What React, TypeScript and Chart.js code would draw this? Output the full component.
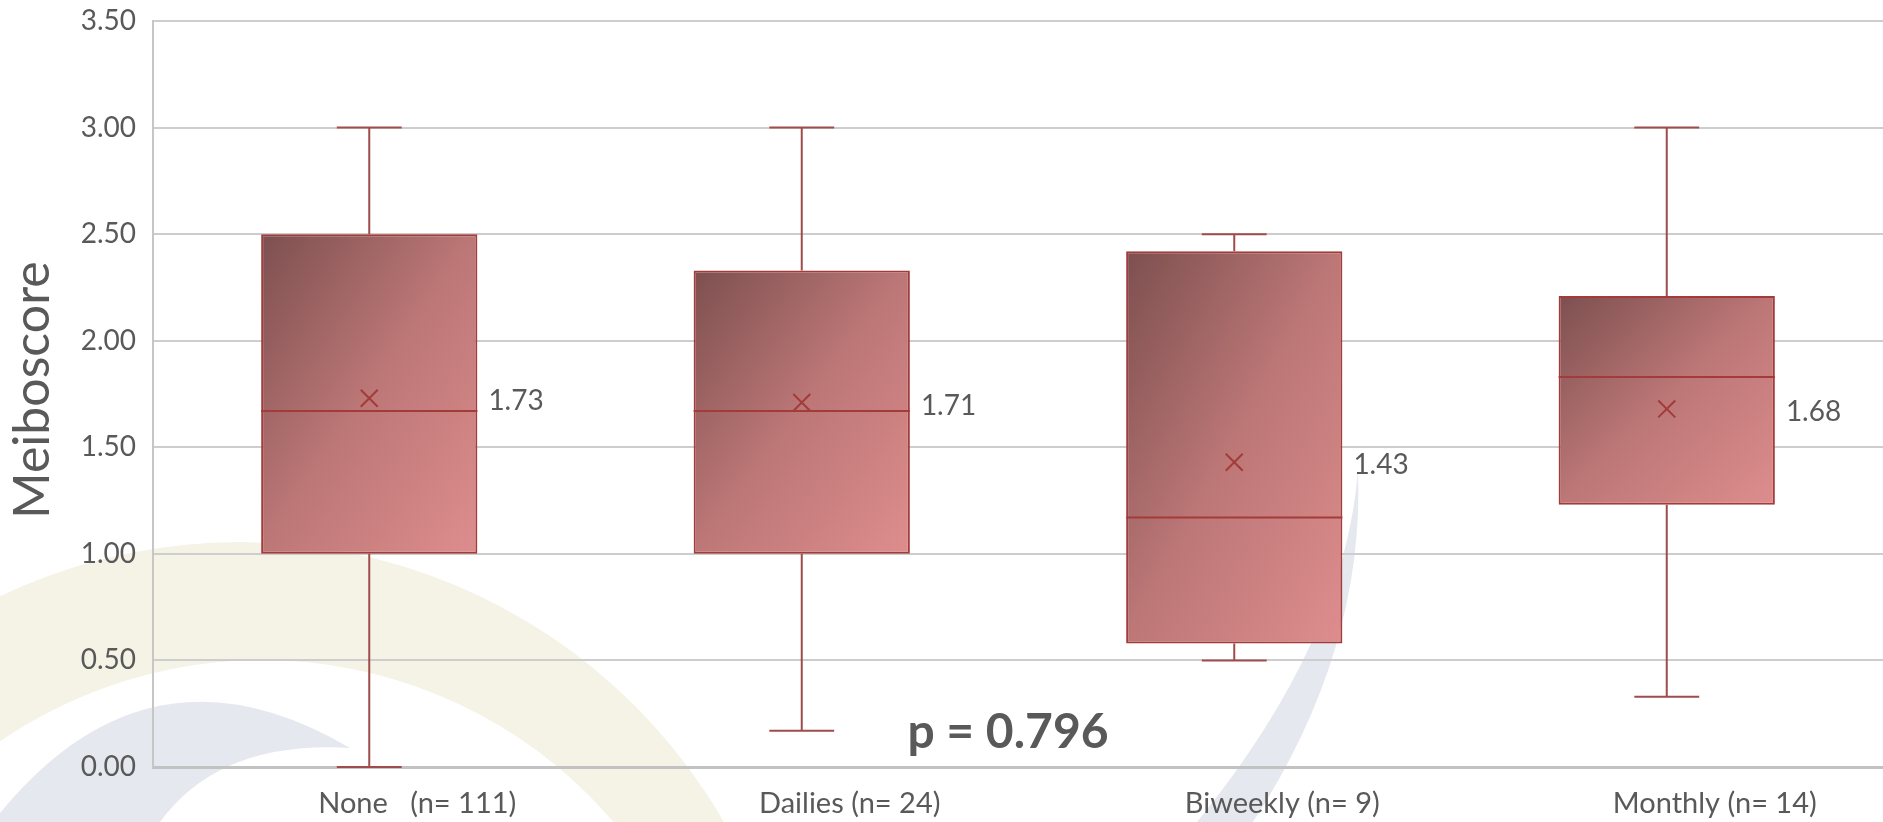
import React, { useEffect, useRef } from 'react';
import { Chart, registerables } from 'chart.js';

Chart.register(...registerables);

// ---- data ----
const categories = ['None   (n= 111)', 'Dailies (n= 24)', 'Biweekly (n= 9)', 'Monthly (n= 14)'];
const whiskerMin = [0.0, 0.17, 0.5, 0.33];
const q1 = [1.0, 1.0, 0.58, 1.23];
const median = [1.67, 1.67, 1.17, 1.83];
const q3 = [2.5, 2.33, 2.42, 2.21];
const whiskerMax = [3.0, 3.0, 2.5, 3.0];
const means = [1.73, 1.71, 1.43, 1.68];
const yMin = 0;
const yMax = 3.5;
const yStep = 0.5;
const yTitle = 'Meiboscore';
const pValueText = 'p = 0.796';
const pValueY = 0.16;

const FONT = 'Lato, "Open Sans", sans-serif';
const TEXT = '#595959';
const BOX_LINE = '#a33b3b';
const WHISKER = '#a04c4c';

const watermark = {
  id: 'watermark',
  beforeDraw(chart: any) {
    const ctx = chart.ctx;
    ctx.save();
    // beige ring
    ctx.beginPath();
    ctx.arc(240, 1100, 558, 0, Math.PI * 2);
    ctx.arc(262, 1122, 462, 0, Math.PI * 2, true);
    ctx.fillStyle = '#f5f2e6';
    ctx.fill('evenodd');
    // blue-grey crescent
    ctx.fillStyle = '#e5e8ee';
    ctx.beginPath();
    ctx.moveTo(0, 822);
    ctx.lineTo(0, 813);
    ctx.quadraticCurveTo(150, 630, 350, 748);
    ctx.quadraticCurveTo(220, 740, 160, 822);
    ctx.closePath();
    ctx.fill();
    // blue-grey stroke
    ctx.beginPath();
    ctx.moveTo(1358, 470);
    ctx.quadraticCurveTo(1365, 650, 1253, 822);
    ctx.lineTo(1197, 822);
    ctx.quadraticCurveTo(1345, 640, 1358, 470);
    ctx.closePath();
    ctx.fill();
    ctx.restore();
  },
};

const boxExtras = {
  id: 'boxExtras',
  afterDatasetsDraw(chart: any) {
    const ctx = chart.ctx;
    const xs = chart.scales.x;
    const ys = chart.scales.y;
    const meta = chart.getDatasetMeta(0);
    ctx.save();
    categories.forEach((_, i) => {
      const el = meta.data[i];
      const cx = xs.getPixelForValue(i);
      const w = el ? el.width : 200;
      const cap = w * 0.15;
      const yMaxP = ys.getPixelForValue(whiskerMax[i]);
      const yQ3 = ys.getPixelForValue(q3[i]);
      const yQ1 = ys.getPixelForValue(q1[i]);
      const yMinP = ys.getPixelForValue(whiskerMin[i]);
      ctx.strokeStyle = WHISKER;
      ctx.lineWidth = 2;
      ctx.beginPath();
      ctx.moveTo(cx, yQ3);
      ctx.lineTo(cx, yMaxP);
      ctx.moveTo(cx - cap, yMaxP);
      ctx.lineTo(cx + cap, yMaxP);
      ctx.moveTo(cx, yQ1);
      ctx.lineTo(cx, yMinP);
      ctx.moveTo(cx - cap, yMinP);
      ctx.lineTo(cx + cap, yMinP);
      ctx.stroke();
      // median
      const ym = ys.getPixelForValue(median[i]);
      ctx.strokeStyle = BOX_LINE;
      ctx.beginPath();
      ctx.moveTo(cx - w / 2, ym);
      ctx.lineTo(cx + w / 2, ym);
      ctx.stroke();
      // mean label
      ctx.fillStyle = TEXT;
      ctx.font = `28px ${FONT}`;
      ctx.textAlign = 'left';
      ctx.textBaseline = 'middle';
      ctx.fillText(means[i].toFixed(2), cx + w / 2 + 11, ys.getPixelForValue(means[i]) + 3);
    });
    // p-value
    const mid = (xs.getPixelForValue(1) + xs.getPixelForValue(2)) / 2 - 10;
    ctx.font = `bold 48px ${FONT}`;
    ctx.textAlign = 'center';
    ctx.textBaseline = 'middle';
    ctx.fillStyle = TEXT;
    ctx.fillText(pValueText, mid, ys.getPixelForValue(pValueY));
    // y title
    ctx.save();
    ctx.translate(33, (ys.top + ys.bottom) / 2 - 4);
    ctx.rotate(-Math.PI / 2);
    ctx.font = `50px ${FONT}`;
    ctx.textAlign = 'center';
    ctx.textBaseline = 'middle';
    ctx.fillText(yTitle, 0, 0);
    ctx.restore();
    ctx.restore();
  },
};

function boxGradient(c: any) {
  const chart = c.chart;
  const i = c.dataIndex;
  if (!chart.chartArea || c.type !== 'data') return '#c07878';
  const xs = chart.scales.x;
  const ys = chart.scales.y;
  const w = (xs.width / categories.length) * 0.5;
  const l = xs.getPixelForValue(i) - w / 2;
  const t = ys.getPixelForValue(q3[i]);
  const b = ys.getPixelForValue(q1[i]);
  const h = b - t;
  const s = (2 * w * h) / (h * h + w * w);
  const g = chart.ctx.createLinearGradient(l, t, l + h * s, t + w * s);
  g.addColorStop(0, '#7d4f4f');
  g.addColorStop(0.5, '#bd7777');
  g.addColorStop(1, '#de8d8d');
  return g;
}

export default function App() {
  const ref = useRef<HTMLCanvasElement>(null);
  useEffect(() => {
    if (!ref.current) return;
    const chart = new Chart(ref.current, {
      type: 'bar',
      data: {
        labels: categories,
        datasets: [
          {
            type: 'bar',
            data: categories.map((_, i) => [q1[i], q3[i]]) as any,
            backgroundColor: boxGradient as any,
            borderColor: BOX_LINE,
            borderWidth: 2,
            borderSkipped: false,
            barPercentage: 0.5,
            categoryPercentage: 1,
            order: 2,
          },
          {
            type: 'line',
            data: means,
            showLine: false,
            pointStyle: 'crossRot',
            pointRadius: 12,
            pointBorderWidth: 2,
            pointBorderColor: BOX_LINE,
            pointBackgroundColor: BOX_LINE,
            order: 1,
          } as any,
        ],
      },
      options: {
        responsive: false,
        animation: false,
        layout: { autoPadding: false, padding: { top: 21, left: 0, right: 0, bottom: 0 } },
        plugins: { legend: { display: false }, tooltip: { enabled: false } },
        scales: {
          x: {
            offset: true,
            grid: { display: false, drawTicks: false },
            border: { display: true, color: '#c2c2c2', width: 3 },
            ticks: {
              color: TEXT,
              font: { family: FONT, size: 29 },
              padding: 19,
              labelOffset: 48,
              maxRotation: 0,
              autoSkip: false,
            },
            afterFit: (s: any) => {
              s.height = 55;
              s.paddingLeft = 0;
              s.paddingRight = 0;
            },
          },
          y: {
            min: yMin,
            max: yMax,
            grid: { color: '#cdcdcd', lineWidth: 2, drawTicks: false },
            border: { display: true, color: '#c6c6c6', width: 2 },
            ticks: {
              stepSize: yStep,
              color: TEXT,
              font: { family: FONT, size: 28 },
              padding: 17,
              callback: (v: any) => Number(v).toFixed(2),
            },
            afterFit: (s: any) => {
              s.width = 153;
              s.paddingTop = 0;
              s.paddingBottom = 0;
            },
          },
        },
      },
      plugins: [watermark, boxExtras],
    });
    return () => chart.destroy();
  }, []);
  return (
    <div style={{ position: 'absolute', left: 0, top: 0, width: 1883, height: 822, background: '#fff' }}>
      <canvas ref={ref} width={1883} height={822} />
    </div>
  );
}
